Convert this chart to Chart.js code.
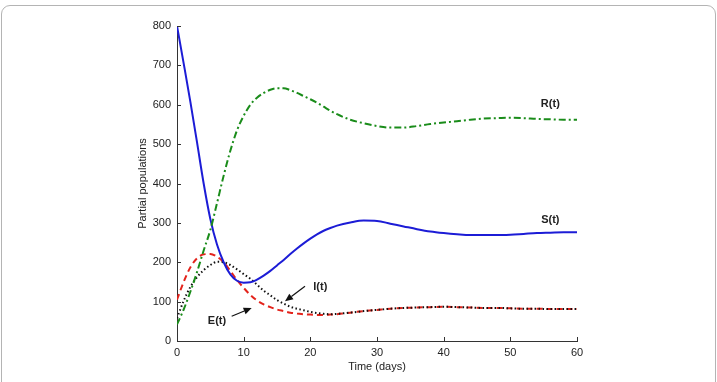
<!DOCTYPE html>
<html>
<head>
<meta charset="utf-8">
<script src="https://cdn.jsdelivr.net/npm/chart.js@4.4.1/dist/chart.umd.min.js"></script>
<style>
  html, body { margin: 0; padding: 0; background: #fff; overflow: hidden; }
  #wrap { position: relative; width: 717px; height: 382px; }
  #frame { position: absolute; left: 1px; top: 5px; width: 715px; height: 400px; border: 1px solid #b4b4b4; border-radius: 9px; box-sizing: border-box; }
  canvas { position: absolute; left: 0; top: 0; }
</style>
</head>
<body>
<div id="wrap">
  <div id="frame"></div>
  <canvas id="c" width="717" height="382"></canvas>
</div>
<script>
// ---- data ----
const days = [0,1,2,3,4,5,6,7,8,9,10,11,12,13,14,15,16,17,18,19,20,21,22,23,24,
              26,28,30,32,34,36,38,40,42,44,46,48,50,52,54,56,58,60];
const S = [800,705,608,505,400,310,245,200,169,153,148,149,156,166,178,192,206,221,235,248,260,271,280,287,293,
           301,306,305,298,291,284,278,274,271,269,269,269,270,272,274,275,276,276];
const E = [105,150,187,210,220,221,214,200,178,155,135,117,103,93,86,80,76,72,70,68,67,66,66,67,68,
           72,76,79,82,84,85,86,87,86,85,84,84,83,82,82,81,81,81];
const I = [58,102,137,162,180,193,201,200,193,182,170,158,143,128,116,104,95,87,82,78,74,71,69,68,69,
           72,76,79,82,84,85,86,87,86,85,84,84,83,82,82,81,81,81];
const R = [42,80,125,175,230,282,350,420,483,535,572,600,618,630,638,642,642,637,630,622,614,605,595,585,576,
           562,553,546,542,542,546,551,555,558,562,565,566,567,566,564,563,562,562];
const xTicks = [0,10,20,30,40,50,60];
const yTicks = [0,100,200,300,400,500,600,700,800];
const labels = [
  {text:'R(t)', x:56, y:603},
  {text:'S(t)', x:56, y:308},
  {text:'I(t)', x:21.5, y:136},
  {text:'E(t)', x:6.0, y:50}
];
const arrows = [
  {x1:19.2, y1:139, x2:16.2, y2:101},
  {x1:8.2, y1:63, x2:11.2, y2:84}
];

const pts = arr => days.map((d, i) => ({x: d, y: arr[i]}));

const FONT = '"Liberation Sans", Arial, Helvetica, sans-serif';

const overlay = {
  id: 'overlay',
  afterDraw(chart) {
    const ctx = chart.ctx;
    const xs = chart.scales.x, ys = chart.scales.y;
    const a = chart.chartArea;
    ctx.save();
    // inward tick marks
    ctx.strokeStyle = '#333';
    ctx.lineWidth = 1;
    ctx.beginPath();
    xTicks.forEach(v => {
      const px = Math.round(xs.getPixelForValue(v)) + 0.5;
      ctx.moveTo(px, a.bottom); ctx.lineTo(px, a.bottom - 4);
    });
    yTicks.forEach(v => {
      const py = Math.round(ys.getPixelForValue(v)) + 0.5;
      ctx.moveTo(a.left, py); ctx.lineTo(a.left + 4, py);
    });
    ctx.stroke();
    // axis titles
    ctx.fillStyle = '#222';
    ctx.font = '11px ' + FONT;
    ctx.textAlign = 'center';
    ctx.textBaseline = 'middle';
    ctx.fillText('Time (days)', (a.left + a.right) / 2, a.bottom + 26);
    ctx.save();
    ctx.translate(a.left - 34, (a.top + a.bottom) / 2);
    ctx.rotate(-Math.PI / 2);
    ctx.fillText('Partial populations', 0, 0);
    ctx.restore();
    // curve labels
    ctx.font = 'bold 11px ' + FONT;
    labels.forEach(l => {
      ctx.fillText(l.text, xs.getPixelForValue(l.x), ys.getPixelForValue(l.y));
    });
    // arrows
    ctx.strokeStyle = '#111';
    ctx.fillStyle = '#111';
    ctx.lineWidth = 1.2;
    arrows.forEach(ar => {
      const x1 = xs.getPixelForValue(ar.x1), y1 = ys.getPixelForValue(ar.y1);
      const x2 = xs.getPixelForValue(ar.x2), y2 = ys.getPixelForValue(ar.y2);
      const ang = Math.atan2(y2 - y1, x2 - x1);
      const hl = 8, hw = 3.5;
      const bx = x2 - hl * Math.cos(ang), by = y2 - hl * Math.sin(ang);
      ctx.beginPath();
      ctx.moveTo(x1, y1); ctx.lineTo(bx, by); ctx.stroke();
      ctx.beginPath();
      ctx.moveTo(x2, y2);
      ctx.lineTo(bx + hw * Math.sin(ang), by - hw * Math.cos(ang));
      ctx.lineTo(bx - hw * Math.sin(ang), by + hw * Math.cos(ang));
      ctx.closePath(); ctx.fill();
    });
    ctx.restore();
  }
};

const common = {fill: false, pointRadius: 0, borderWidth: 2, cubicInterpolationMode: 'monotone'};

new Chart(document.getElementById('c'), {
  type: 'line',
  data: {
    datasets: [
      Object.assign({label: 'R(t)', data: pts(R), borderColor: '#1a8c1a', borderDash: [7, 3, 2, 3]}, common),
      Object.assign({label: 'S(t)', data: pts(S), borderColor: '#1c1cd6'}, common),
      Object.assign({label: 'I(t)', data: pts(I), borderColor: '#111111', borderDash: [1.5, 2.5]}, common),
      Object.assign({label: 'E(t)', data: pts(E), borderColor: '#e3231b', borderDash: [6, 4]}, common)
    ]
  },
  options: {
    responsive: false,
    animation: false,
    devicePixelRatio: 1,
    layout: {padding: {left: 0, right: 140, top: 26, bottom: 0}},
    plugins: {legend: {display: false}, tooltip: {enabled: false}},
    scales: {
      x: {
        type: 'linear', min: 0, max: 60,
        afterBuildTicks: s => { s.ticks = xTicks.map(v => ({value: v})); },
        afterFit: s => { s.height = 41; },
        grid: {display: false, drawTicks: false},
        border: {display: true, color: '#333', width: 1},
        ticks: {color: '#222', font: {size: 11, family: FONT}, padding: 5, maxRotation: 0}
      },
      y: {
        type: 'linear', min: 0, max: 800,
        afterBuildTicks: s => { s.ticks = yTicks.map(v => ({value: v})); },
        afterFit: s => { s.width = 177; },
        grid: {display: false, drawTicks: false},
        border: {display: true, color: '#333', width: 1},
        ticks: {color: '#222', font: {size: 11, family: FONT}, padding: 6}
      }
    }
  },
  plugins: [overlay]
});
</script>
</body>
</html>
